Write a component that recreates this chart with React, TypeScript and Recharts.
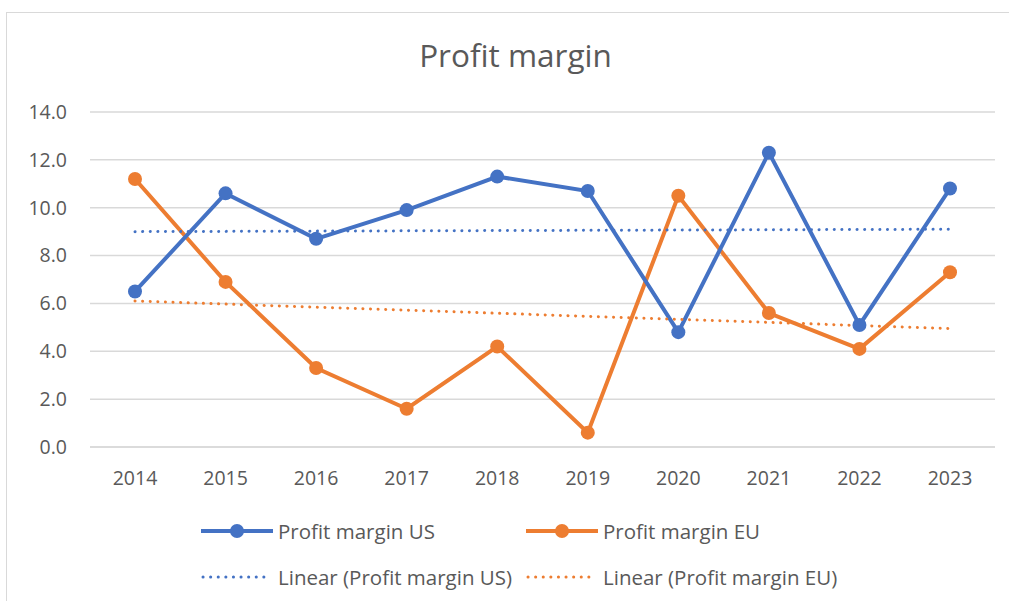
import { LineChart, Line, XAxis, YAxis, CartesianGrid } from "recharts";

const years = ["2014", "2015", "2016", "2017", "2018", "2019", "2020", "2021", "2022", "2023"];
const marginUS = [6.5, 10.6, 8.7, 9.9, 11.3, 10.7, 4.8, 12.3, 5.1, 10.8];
const marginEU = [11.2, 6.9, 3.3, 1.6, 4.2, 0.6, 10.5, 5.6, 4.1, 7.3];
// trendline end values (first and last year)
const trendUS = [9.0, 9.1];
const trendEU = [6.1, 4.95];
const yTicks = [0, 2, 4, 6, 8, 10, 12, 14];

const BLUE = "#4472C4";
const ORANGE = "#ED7D31";
const TEXT = "#595959";
const FONT = "'Open Sans', Lato, sans-serif";

const last = years.length - 1;
const data = years.map((year, i) => ({
  year,
  us: marginUS[i],
  eu: marginEU[i],
  usTrend: i === 0 ? trendUS[0] : i === last ? trendUS[1] : null,
  euTrend: i === 0 ? trendEU[0] : i === last ? trendEU[1] : null,
}));

function LegendItem({ color, label, dotted, left, top }: { color: string; label: string; dotted?: boolean; left: number; top: number }) {
  return (
    <div style={{ position: "absolute", left, top, display: "flex", alignItems: "center", whiteSpace: "nowrap" }}>
      <svg width={72} height={16} style={{ marginRight: 5 }}>
        {dotted ? (
          <line x1={2} y1={8} x2={70} y2={8} stroke={color} strokeWidth={3} strokeDasharray="0.1 7.5" strokeLinecap="round" />
        ) : (
          <>
            <line x1={0} y1={8} x2={72} y2={8} stroke={color} strokeWidth={4} strokeLinecap="round" />
            <circle cx={36} cy={8} r={7} fill={color} />
          </>
        )}
      </svg>
      <span style={{ fontSize: 20.5, color: TEXT, fontFamily: FONT }}>{label}</span>
    </div>
  );
}

export default function App() {
  return (
    <div
      style={{
        position: "absolute",
        left: 6,
        top: 12,
        width: 1020,
        height: 600,
        border: "1px solid #D9D9D9",
        background: "#fff",
        fontFamily: FONT,
      }}
    >
      <div
        style={{
          position: "absolute",
          left: 0,
          width: 1017,
          top: 20,
          textAlign: "center",
          fontSize: 31.5,
          color: TEXT,
        }}
      >
        Profit margin
      </div>
      <div style={{ position: "absolute", left: 0, top: 0 }}>
        <LineChart width={1012} height={494} data={data} margin={{ top: 99, right: 24, bottom: 0, left: 0 }}>
          <CartesianGrid vertical={false} stroke="#D9D9D9" strokeWidth={1.5} />
          <XAxis
            dataKey="year"
            padding={{ left: 45, right: 45 }}
            axisLine={{ stroke: "#D9D9D9", strokeWidth: 1.5 }}
            tickLine={false}
            tickSize={0}
            tickMargin={24}
            height={60}
            tick={{ fill: TEXT, fontSize: 19.5, fontFamily: FONT }}
          />
          <YAxis
            width={83}
            domain={[0, 14]}
            ticks={yTicks}
            interval={0}
            axisLine={false}
            tickLine={false}
            tickSize={0}
            tickMargin={23}
            tickFormatter={(v: number) => v.toFixed(1)}
            tick={{ fill: TEXT, fontSize: 19.5, fontFamily: FONT }}
          />
          <Line
            dataKey="eu"
            stroke={ORANGE}
            strokeWidth={4}
            dot={{ r: 7, fill: ORANGE, stroke: ORANGE, strokeWidth: 0 }}
            isAnimationActive={false}
          />
          <Line
            dataKey="us"
            stroke={BLUE}
            strokeWidth={4}
            dot={{ r: 7, fill: BLUE, stroke: BLUE, strokeWidth: 0 }}
            isAnimationActive={false}
          />
          <Line
            dataKey="usTrend"
            stroke={BLUE}
            strokeWidth={3}
            strokeDasharray="0.1 7.5"
            strokeLinecap="round"
            dot={false}
            connectNulls
            isAnimationActive={false}
          />
          <Line
            dataKey="euTrend"
            stroke={ORANGE}
            strokeWidth={3}
            strokeDasharray="0.1 7.5"
            strokeLinecap="round"
            dot={false}
            connectNulls
            isAnimationActive={false}
          />
        </LineChart>
      </div>
      <LegendItem color={BLUE} label="Profit margin US" left={194} top={504} />
      <LegendItem color={ORANGE} label="Profit margin EU" left={519} top={504} />
      <LegendItem color={BLUE} label="Linear (Profit margin US)" dotted left={194} top={550} />
      <LegendItem color={ORANGE} label="Linear (Profit margin EU)" dotted left={519} top={550} />
    </div>
  );
}
